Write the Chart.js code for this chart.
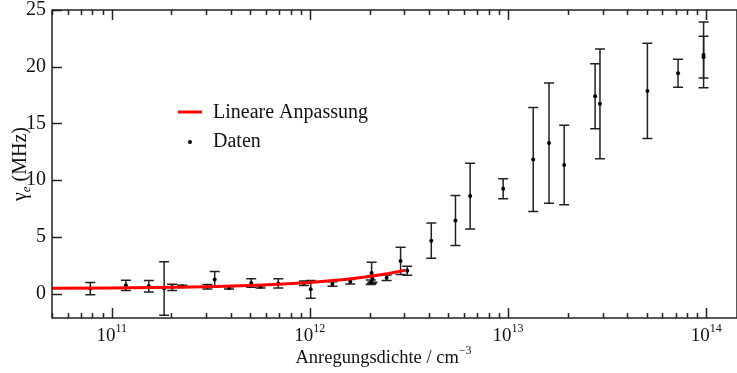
<!DOCTYPE html>
<html>
<head>
<meta charset="utf-8">
<script src="https://cdn.jsdelivr.net/npm/chart.js@4/dist/chart.umd.min.js"></script>
<style>
html, body { margin: 0; padding: 0; background: #fff; }
</style>
</head>
<body>
<canvas id="chart" width="737" height="373"></canvas>
<script>
var densities = [7.8e10, 1.18e11, 1.54e11, 1.84e11, 2.02e11, 2.27e11, 3.04e11, 3.31e11, 3.91e11, 5.06e11,
                 5.64e11, 6.93e11, 9.33e11, 1.01e12, 1.30e12, 1.60e12, 2.05e12, 2.07e12, 2.03e12, 2.44e12,
                 2.87e12, 3.10e12, 4.10e12, 5.43e12, 6.44e12, 9.45e12, 1.34e13, 1.61e13, 1.92e13, 2.75e13,
                 2.91e13, 5.05e13, 7.21e13, 9.70e13, 9.70e13];
var gammaValues = [0.44, 0.73, 0.65, 0.45, 0.55, 0.64, 0.6, 1.25, 0.5, 0.94,
                   0.6, 0.9, 0.92, 0.38, 0.85, 1.05, 1.82, 1.3, 1.0, 1.4,
                   2.88, 2.02, 4.67, 6.45, 8.6, 9.24, 11.82, 13.27, 11.33, 17.4,
                   16.73, 17.87, 19.43, 21.04, 20.84];
var gammaErrors = [0.55, 0.45, 0.5, 2.35, 0.27, 0.1, 0.2, 0.7, 0.1, 0.38,
                   0.1, 0.4, 0.2, 0.78, 0.2, 0.2, 0.95, 0.3, 0.2, 0.25,
                   1.2, 0.4, 1.56, 2.2, 2.9, 0.88, 4.58, 5.3, 3.5, 2.87,
                   4.84, 4.2, 1.23, 2.9, 1.84];

// lineare Anpassung
var fitDensities = [5e10, 1e11, 2e11, 3e11, 5e11, 7e11, 1e12, 1.5e12, 2e12, 2.5e12, 3.05e12];
var fitGamma = [0.47, 0.50, 0.55, 0.60, 0.71, 0.82, 0.98, 1.24, 1.51, 1.78, 2.07];

var yTicks = [0, 5, 10, 15, 20, 25];
var xDecades = [11, 12, 13, 14];

var serif = "'Liberation Serif', 'DejaVu Serif', serif";

var errorBars = {
    id: 'errorBars',
    beforeDatasetsDraw: function(chart) {
        var ctx = chart.ctx, xs = chart.scales.x, ys = chart.scales.y;
        ctx.save();
        ctx.strokeStyle = '#222';
        ctx.lineWidth = 1.5;
        for (var i = 0; i < densities.length; i++) {
            var px = xs.getPixelForValue(densities[i]);
            var top = ys.getPixelForValue(gammaValues[i] + gammaErrors[i]);
            var bot = ys.getPixelForValue(gammaValues[i] - gammaErrors[i]);
            ctx.beginPath();
            ctx.moveTo(px, top); ctx.lineTo(px, bot);
            ctx.moveTo(px - 5, top); ctx.lineTo(px + 5, top);
            ctx.moveTo(px - 5, bot); ctx.lineTo(px + 5, bot);
            ctx.stroke();
        }
        ctx.restore();
    }
};

var frame = {
    id: 'frame',
    afterDraw: function(chart) {
        var ctx = chart.ctx, a = chart.chartArea, xs = chart.scales.x, ys = chart.scales.y;
        ctx.save();
        ctx.strokeStyle = '#222';
        ctx.lineWidth = 1.5;
        ctx.strokeRect(a.left, a.top, a.right - a.left, a.bottom - a.top);

        // x ticks, bottom and top
        ctx.beginPath();
        for (var d = 10; d <= 14; d++) {
            for (var m = 1; m <= 9; m++) {
                var v = m * Math.pow(10, d);
                if (v < xs.min || v > xs.max) continue;
                var px = Math.round(xs.getPixelForValue(v)) + 0.5;
                var len = m === 1 ? 10 : 5;
                ctx.moveTo(px, a.bottom); ctx.lineTo(px, a.bottom - len);
                ctx.moveTo(px, a.top); ctx.lineTo(px, a.top + len);
            }
        }
        // y ticks
        yTicks.forEach(function(t) {
            var py = Math.round(ys.getPixelForValue(t)) + 0.5;
            ctx.moveTo(a.left, py); ctx.lineTo(a.left + 10, py);
        });
        ctx.stroke();

        ctx.fillStyle = '#111';
        // y tick labels
        ctx.font = '20px ' + serif;
        ctx.textAlign = 'right';
        ctx.textBaseline = 'middle';
        yTicks.forEach(function(t) {
            ctx.fillText(String(t), a.left - 6, ys.getPixelForValue(t));
        });
        // x tick labels 10^n
        xDecades.forEach(function(d) {
            var px = xs.getPixelForValue(Math.pow(10, d));
            ctx.font = '19px ' + serif;
            var w1 = ctx.measureText('10').width;
            ctx.font = '12px ' + serif;
            var w2 = ctx.measureText(String(d)).width;
            var x0 = px - (w1 + w2) / 2;
            ctx.textAlign = 'left';
            ctx.textBaseline = 'alphabetic';
            ctx.font = '19px ' + serif;
            ctx.fillText('10', x0, a.bottom + 23);
            ctx.font = '12px ' + serif;
            ctx.fillText(String(d), x0 + w1, a.bottom + 14);
        });

        // x axis title
        var cx = (a.left + a.right) / 2 - 11;
        ctx.font = '18.5px ' + serif;
        var t1 = 'Anregungsdichte / cm';
        var wt = ctx.measureText(t1).width;
        ctx.font = '12px ' + serif;
        var ws = ctx.measureText('\u22123').width;
        var xt = cx - (wt + ws) / 2;
        ctx.font = '18.5px ' + serif;
        ctx.fillText(t1, xt, a.bottom + 45);
        ctx.font = '12px ' + serif;
        ctx.fillText('\u22123', xt + wt, a.bottom + 36);

        // y axis title
        ctx.save();
        ctx.translate(12, (a.top + a.bottom) / 2);
        ctx.rotate(-Math.PI / 2);
        ctx.textAlign = 'left';
        ctx.textBaseline = 'alphabetic';
        ctx.font = '20px ' + serif;
        var g = '\u03b3';
        var wg = ctx.measureText(g).width;
        ctx.font = 'italic 13px ' + serif;
        var we = ctx.measureText('e').width;
        ctx.font = '20px ' + serif;
        var rest = ' (MHz)';
        var wr = ctx.measureText(rest).width;
        var x1 = -(wg + we + wr) / 2;
        ctx.fillText(g, x1, 14);
        ctx.font = 'italic 13px ' + serif;
        ctx.fillText('e', x1 + wg, 18);
        ctx.font = '20px ' + serif;
        ctx.fillText(rest, x1 + wg + we, 14);
        ctx.restore();

        // legend
        ctx.strokeStyle = 'red';
        ctx.lineWidth = 3;
        ctx.beginPath();
        ctx.moveTo(178, 112); ctx.lineTo(202, 112);
        ctx.stroke();
        ctx.fillStyle = '#000';
        ctx.beginPath();
        ctx.arc(190, 142, 2, 0, Math.PI * 2);
        ctx.fill();
        ctx.fillStyle = '#111';
        ctx.font = '20px ' + serif;
        ctx.textAlign = 'left';
        ctx.textBaseline = 'middle';
        ctx.fillText('Lineare Anpassung', 213, 113);
        ctx.fillText('Daten', 213, 142);
        ctx.restore();
    }
};

var points = densities.map(function(x, i) { return { x: x, y: gammaValues[i] }; });
var fitPoints = fitDensities.map(function(x, i) { return { x: x, y: fitGamma[i] }; });

new Chart(document.getElementById('chart'), {
    type: 'scatter',
    data: {
        datasets: [{
            label: 'Lineare Anpassung',
            data: fitPoints,
            showLine: true,
            borderColor: 'red',
            borderWidth: 3,
            pointRadius: 0,
            tension: 0
        },
        {
            label: 'Daten',
            data: points,
            backgroundColor: '#000',
            borderColor: '#000',
            pointRadius: 2,
            borderWidth: 0
        }]
    },
    options: {
        responsive: false,
        animation: false,
        layout: { autoPadding: false, padding: { left: 52, right: 0, top: 10, bottom: 55 } },
        plugins: { legend: { display: false }, tooltip: { enabled: false } },
        scales: {
            x: { type: 'logarithmic', min: 5e10, max: 1.43e14, display: false },
            y: { type: 'linear', min: -2.15, max: 25, display: false }
        }
    },
    plugins: [errorBars, frame]
});
</script>
</body>
</html>
